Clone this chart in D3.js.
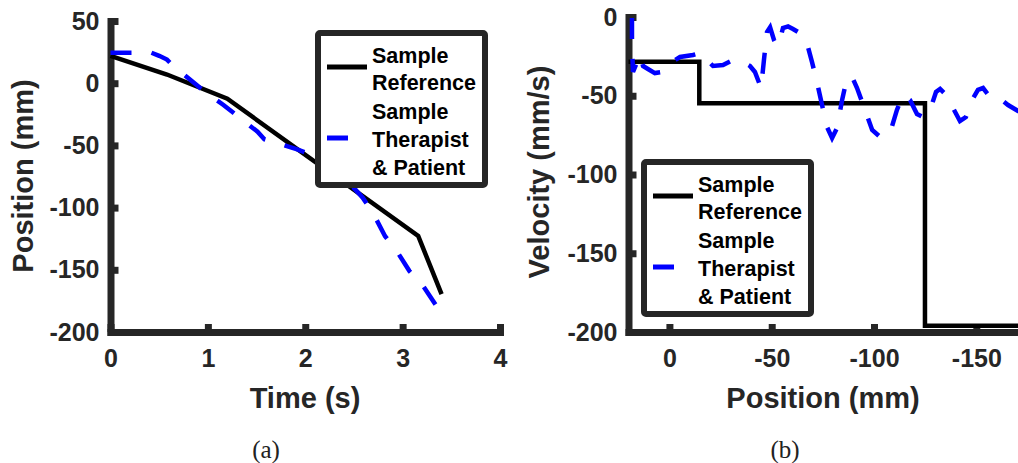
<!DOCTYPE html>
<html>
<head>
<meta charset="utf-8">
<script src="https://cdn.jsdelivr.net/npm/d3@7"></script>
<style>
  body { margin: 0; background: #fff; }
  text { font-family: "Liberation Sans", Arial, sans-serif; font-weight: bold; }
  text.cap { font-family: "Liberation Serif", "DejaVu Serif", serif; font-weight: normal; }
</style>
</head>
<body>
<svg id="fig" width="1018" height="463"></svg>
<script>
// (a) position vs time
const refTime = [0, 0.58, 1.2, 3.16, 3.4];
const refPos  = [22, 7, -12.5, -122.8, -169.6];
const ptTime = [0, 0.42, 0.5, 0.58, 0.63, 0.8, 0.97, 1.16, 1.33, 1.51, 1.58, 1.69, 1.91, 2.12, 2.3, 2.45, 2.59, 2.7, 2.82, 2.94, 3.07, 3.21, 3.38];
const ptPos  = [24.5, 24.5, 22, 19, 15, 4, -7, -17.5, -28, -39, -45, -47.5, -53, -59, -68, -80, -92, -105, -123, -135, -151, -163, -183];

// (b) velocity vs position (steps for the reference)
const refStepPos = [20, -14.6, -124.9, -180];
const refStepVel = [-28.4, -54.8, -196, -196];
const ptVelPos = [18.3, 18.3, 17.8, 15.8, 14.4, 12.9, 10.5, 7.1, 3.7, 0.7, -1.3, -5.2, -11.5, -14.9, -18.4, -21.3, -26.2, -31.1, -36, -39.4, -41.8, -43.3, -44.8, -46.2, -47.7, -49.2, -51.1, -52.6, -54, -55.5, -58, -60.4, -63.8, -67.2, -69.7, -72.1, -74.6, -77, -79.5, -81.9, -84.4, -86.8, -89.3, -91.7, -95.6, -99.1, -103, -107.8, -111.2, -114.2, -117.6, -121, -124, -127.4, -130.3, -132.3, -135.2, -138.6, -142, -144.9, -147.9, -150.8, -153.3, -156.7, -160.6, -165.5, -170.4, -175.3];
const ptVel    = [-0.6, -17.8, -34.9, -28.6, -24.1, -31.1, -33, -35.6, -34.9, -30.5, -28.6, -25.4, -24.1, -22.9, -27.3, -31.1, -30.5, -27.3, -28.6, -31.1, -34.9, -40, -45.1, -27.3, -9.5, -6.5, -14.6, -18.4, -14.6, -7, -6, -7.6, -10.2, -16.5, -28.6, -41.3, -55.9, -69.8, -76.8, -70.5, -52.7, -38.7, -38.1, -45.1, -59, -71.7, -76.2, -73.7, -59, -49.5, -52.7, -61.6, -63.5, -59, -47.6, -45.7, -49.5, -57.8, -66, -63.5, -52.7, -46.3, -45.1, -50.8, -50.8, -55.9, -59.7, -60.3];

const legendLabels = ["Sample", "Reference", "Sample", "Therapist", "& Patient"];

const AX = "#262626";
const fmt = d => String(d);   // plain hyphen minus, like the original
const svg = d3.select("#fig");
svg.append("rect").attr("width", 1018).attr("height", 463).attr("fill", "#fff");

function styleAxis(g) {
  g.select(".domain").attr("stroke", AX).attr("stroke-width", 7).attr("stroke-linecap", "square");
  g.selectAll(".tick line").attr("stroke", AX).attr("stroke-width", 7);
  g.selectAll(".tick text").attr("fill", AX).attr("font-size", 25);
}

function drawAxes(x, y, xTicks, yTicks) {
  const y0 = y.range()[0], x0 = x.range()[0];
  svg.append("g").attr("transform", `translate(0,${y0})`)
    .call(d3.axisBottom(x).tickValues(xTicks).tickSizeInner(-8).tickSizeOuter(0).tickPadding(17).tickFormat(fmt))
    .call(styleAxis);
  svg.append("g").attr("transform", `translate(${x0},0)`)
    .call(d3.axisLeft(y).tickValues(yTicks).tickSizeInner(-8).tickSizeOuter(0).tickPadding(11).tickFormat(fmt))
    .call(styleAxis);
}

function drawLegend(lx, ly) {
  const g = svg.append("g").attr("transform", `translate(${lx},${ly})`);
  g.append("rect").attr("width", 167).attr("height", 152).attr("rx", 2)
    .attr("fill", "#fff").attr("stroke", AX).attr("stroke-width", 6);
  g.append("line").attr("x1", 9).attr("x2", 49).attr("y1", 34).attr("y2", 34)
    .attr("stroke", "#000").attr("stroke-width", 5);
  g.append("line").attr("x1", 9).attr("x2", 49).attr("y1", 105).attr("y2", 105)
    .attr("stroke", "#00f").attr("stroke-width", 5).attr("stroke-dasharray", "21,20");
  const rows = [22, 49, 78, 106, 134];
  g.selectAll("text.lg").data(legendLabels).enter().append("text")
    .attr("class", "lg").attr("x", 54).attr("y", (d, i) => rows[i] + 7.5)
    .attr("font-size", 21.5).attr("fill", "#000").text(d => d);
}

// ---------- (a) ----------
const xA = d3.scaleLinear().domain([0, 4]).range([110.5, 500]);
const yA = d3.scaleLinear().domain([-200, 50]).range([332, 21]);
drawAxes(xA, yA, [0, 1, 2, 3, 4], [-200, -150, -100, -50, 0, 50]);

const lineA = d3.line().x(d => xA(d[0])).y(d => yA(d[1]));
svg.append("path").attr("d", lineA(d3.zip(refTime, refPos)))
  .attr("fill", "none").attr("stroke", "#000").attr("stroke-width", 4.5);
svg.append("path").attr("d", lineA(d3.zip(ptTime, ptPos)))
  .attr("fill", "none").attr("stroke", "#00f").attr("stroke-width", 4.5)
  .attr("stroke-dasharray", "21,20");
drawLegend(318, 33);

svg.append("text").attr("x", 305).attr("y", 408).attr("text-anchor", "middle")
  .attr("font-size", 29).attr("fill", AX).text("Time (s)");
svg.append("text").attr("transform", "translate(33,176) rotate(-90)").attr("text-anchor", "middle")
  .attr("font-size", 29).attr("fill", AX).text("Position (mm)");

// ---------- (b) ----------
const xB = d3.scaleLinear().domain([20, -180]).range([628.5, 1037.7]);
const yB = d3.scaleLinear().domain([-200, 0]).range([332, 17]);
drawAxes(xB, yB, [0, -50, -100, -150], [-200, -150, -100, -50, 0]);

const lineB = d3.line().x(d => xB(d[0])).y(d => yB(d[1]));
svg.append("path").attr("d", d3.line().x(d => xB(d[0])).y(d => yB(d[1])).curve(d3.curveStepAfter)(d3.zip(refStepPos, refStepVel)))
  .attr("fill", "none").attr("stroke", "#000").attr("stroke-width", 4.5);
svg.append("path").attr("d", lineB(d3.zip(ptVelPos, ptVel)))
  .attr("fill", "none").attr("stroke", "#00f").attr("stroke-width", 4.5)
  .attr("stroke-dasharray", "21,20");
drawLegend(644, 162);

svg.append("text").attr("x", 823).attr("y", 408).attr("text-anchor", "middle")
  .attr("font-size", 29).attr("fill", AX).text("Position (mm)");
svg.append("text").attr("transform", "translate(549,172) rotate(-90)").attr("text-anchor", "middle")
  .attr("font-size", 29).attr("fill", AX).text("Velocity (mm/s)");

// captions
svg.append("text").attr("class", "cap").attr("x", 266).attr("y", 458).attr("text-anchor", "middle")
  .attr("font-size", 25).attr("fill", "#222").text("(a)");
svg.append("text").attr("class", "cap").attr("x", 785).attr("y", 458).attr("text-anchor", "middle")
  .attr("font-size", 25).attr("fill", "#222").text("(b)");
</script>
</body>
</html>
